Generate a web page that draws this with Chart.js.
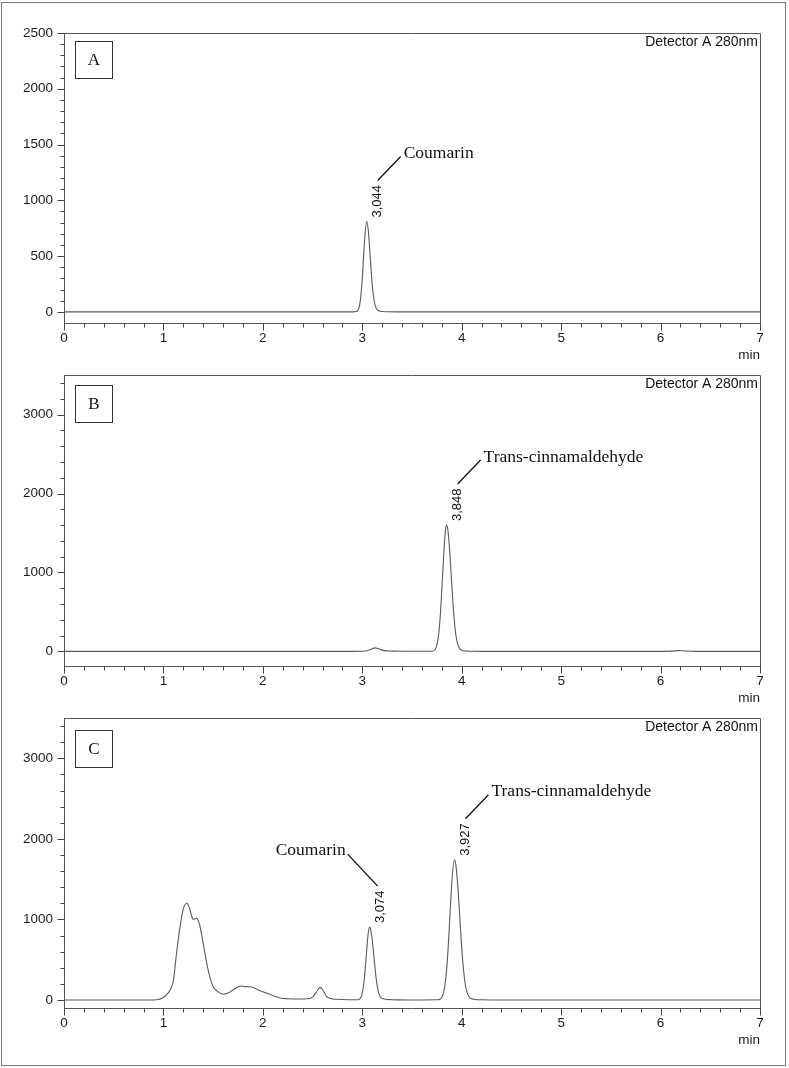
<!DOCTYPE html>
<html><head><meta charset="utf-8">
<script src="https://cdn.jsdelivr.net/npm/chart.js@4.4.1/dist/chart.umd.min.js"></script>
<style>
html,body{margin:0;padding:0;background:#fff;}
#page{position:relative;width:789px;height:1068px;overflow:hidden;background:#fff;}
#frame{position:absolute;left:1px;top:2px;width:783px;height:1062px;border:1px solid #7a7a7a;}
.wrap{position:absolute;left:0;width:789px;}
canvas{display:block;}
</style></head><body>
<div id="page">
<div id="frame"></div>
<div class="wrap" style="top:0px;height:363px"><canvas id="cA" width="789" height="363"></canvas></div>
<div class="wrap" style="top:363px;height:343px"><canvas id="cB" width="789" height="343"></canvas></div>
<div class="wrap" style="top:706px;height:342px"><canvas id="cC" width="789" height="342"></canvas></div>
</div>
<script>
// ---- tick labels ----
const xMajorTicks = [0, 1, 2, 3, 4, 5, 6, 7];
const xMinorStep = 0.2;
const yMajorTicksA = [0, 500, 1000, 1500, 2000, 2500];
const yMinorStepA = 100;
const yMajorTicksBC = [0, 1000, 2000, 3000];
const yMinorStepBC = 200;
const panelLetters = ['A', 'B', 'C'];
const detectorLabel = 'Detector A 280nm';
const xUnit = 'min';

// ---- chromatogram A ----
const timeA = [0, 1.4, 2.9, 2.94, 2.96, 2.98, 3.00, 3.02, 3.044, 3.06, 3.08, 3.10, 3.12, 3.14, 3.16, 3.18, 3.20, 3.25, 3.35, 7];
const signalA = [0, 0, 0, 3, 21, 96, 296, 600, 810, 734, 491, 241, 95, 32, 12, 6, 3, 1, 0, 0];
const peakTimesA = [3.044];
const peakHeightsA = [810];
const peakLabelsA = ['3,044'];
const peakNamesA = ['Coumarin'];
const peakSidesA = ['right'];

// ---- chromatogram B ----
const timeB = [0, 2.9, 3.0, 3.05, 3.09, 3.13, 3.17, 3.22, 3.3, 3.5, 3.70, 3.72, 3.74, 3.76, 3.78, 3.80, 3.82, 3.84, 3.848, 3.86, 3.88, 3.90, 3.92, 3.94, 3.96, 3.98, 4.00, 4.02, 4.05, 4.10, 4.2, 6.0, 6.12, 6.18, 6.24, 6.35, 7];
const signalB = [0, 0, 2, 8, 28, 45, 30, 10, 4, 2, 2, 10, 42, 142, 377, 779, 1253, 1569, 1601, 1547, 1257, 845, 470, 217, 90, 35, 15, 8, 3, 1, 0, 0, 4, 10, 5, 0, 0];
const peakTimesB = [3.848];
const peakHeightsB = [1601];
const peakLabelsB = ['3,848'];
const peakNamesB = ['Trans-cinnamaldehyde'];
const peakSidesB = ['right'];

// ---- chromatogram C ----
const timeC = [0, 0.90, 0.95, 1.00, 1.05, 1.07, 1.10, 1.13, 1.15, 1.17, 1.20, 1.234, 1.26, 1.28, 1.30, 1.335, 1.36, 1.38, 1.40, 1.42, 1.45, 1.48, 1.50, 1.55, 1.60, 1.65, 1.70, 1.75, 1.78, 1.82, 1.87, 1.92, 1.97, 2.02, 2.07, 2.12, 2.17, 2.25, 2.35, 2.45, 2.50, 2.55, 2.575, 2.60, 2.64, 2.68, 2.75, 2.85, 2.96, 2.98, 3.00, 3.02, 3.04, 3.06, 3.074, 3.08, 3.10, 3.12, 3.14, 3.16, 3.18, 3.20, 3.22, 3.25, 3.30, 3.35, 3.50, 3.76, 3.78, 3.80, 3.82, 3.84, 3.86, 3.88, 3.90, 3.927, 3.94, 3.96, 3.98, 4.00, 4.02, 4.04, 4.06, 4.08, 4.10, 4.14, 4.20, 4.30, 7];
const signalC = [0, 0, 5, 30, 90, 130, 240, 560, 760, 930, 1130, 1200, 1150, 1060, 1000, 1015, 950, 840, 700, 560, 370, 230, 164, 100, 70, 85, 123, 160, 173, 165, 164, 145, 115, 92, 70, 45, 25, 15, 12, 15, 35, 120, 156, 130, 45, 18, 8, 3, 3, 20, 85, 257, 549, 832, 905, 896, 748, 497, 263, 111, 45, 20, 12, 6, 3, 1, 0, 2, 8, 33, 103, 269, 575, 1009, 1454, 1741, 1687, 1423, 1036, 650, 351, 164, 75, 30, 14, 5, 2, 0, 0];
const peakTimesC = [3.074, 3.927];
const peakHeightsC = [905, 1741];
const peakLabelsC = ['3,074', '3,927'];
const peakNamesC = ['Coumarin', 'Trans-cinnamaldehyde'];
const peakSidesC = ['left', 'right'];

const SANS = '"Liberation Sans", Arial, sans-serif';
const SERIF = '"Liberation Serif", "Times New Roman", serif';

const chromoPlugin = {
  id: 'chromo',
  afterDraw(chart, args, o) {
    const ctx = chart.ctx, ca = chart.chartArea;
    const xs = chart.scales.x, ys = chart.scales.y;
    ctx.save();
    // frame top & right
    ctx.strokeStyle = '#555'; ctx.lineWidth = 1;
    ctx.beginPath();
    ctx.moveTo(Math.round(ca.left) + 0.5, Math.round(ca.top) + 0.5);
    ctx.lineTo(Math.round(ca.right) + 0.5, Math.round(ca.top) + 0.5);
    ctx.lineTo(Math.round(ca.right) + 0.5, Math.round(ca.bottom) + 0.5);
    ctx.stroke();
    // ticks
    ctx.strokeStyle = '#444';
    ctx.beginPath();
    const yb = Math.round(ca.bottom) + 0.5;
    for (let v = xs.min; v <= xs.max + 1e-9; v += o.xStep) {
      const vv = Math.round(v * 1000) / 1000;
      const major = o.xMajors.some(m => Math.abs(m - vv) < 1e-6);
      const px = Math.round(xs.getPixelForValue(vv)) + 0.5;
      ctx.moveTo(px, yb); ctx.lineTo(px, yb + (major ? 7 : 4));
    }
    const xl = Math.round(ca.left) + 0.5;
    const start = Math.ceil(ys.min / o.yStep) * o.yStep;
    for (let v = start; v <= ys.max + 1e-9; v += o.yStep) {
      if (Math.abs(v - ys.min) < 1e-6) continue;
      const major = o.yMajors.includes(v);
      const py = Math.round(ys.getPixelForValue(v)) + 0.5;
      ctx.moveTo(xl, py); ctx.lineTo(xl - (major ? 7 : 4), py);
    }
    ctx.stroke();
    // detector label
    ctx.fillStyle = '#111';
    ctx.font = '14px ' + SANS;
    ctx.textAlign = 'right'; ctx.textBaseline = 'middle';
    ctx.fillText(detectorLabel, ca.right - 2, ca.top + 9);
    // panel letter box
    ctx.strokeStyle = '#333'; ctx.lineWidth = 1;
    const bx = Math.round(ca.left) + 11.5, by = Math.round(ca.top) + o.boxOff + 0.5;
    ctx.strokeRect(bx, by, 37, 37);
    ctx.font = '17px ' + SERIF;
    ctx.textAlign = 'center'; ctx.textBaseline = 'middle';
    ctx.fillText(o.letter, bx + 18.5, by + 19.5);
    // peak annotations
    for (let i = 0; i < o.times.length; i++) {
      const px = xs.getPixelForValue(o.times[i]);
      const py = ys.getPixelForValue(o.heights[i]);
      ctx.save();
      ctx.translate(px + 11, py - 4);
      ctx.rotate(-Math.PI / 2);
      ctx.font = '13px ' + SANS;
      ctx.textAlign = 'left'; ctx.textBaseline = 'middle';
      ctx.fillStyle = '#111';
      ctx.fillText(o.labels[i], 0, 0);
      ctx.restore();
      ctx.strokeStyle = '#111'; ctx.lineWidth = 1.3;
      ctx.beginPath();
      const sx = px + 11, sy = py - 41;
      ctx.font = '17.5px ' + SERIF;
      ctx.textBaseline = 'middle';
      if (o.sides[i] === 'right') {
        const ex = sx + 23, ey = sy - 24;
        ctx.moveTo(sx, sy); ctx.lineTo(ex, ey); ctx.stroke();
        ctx.textAlign = 'left';
        ctx.fillText(o.names[i], ex + 3, ey - 3);
      } else {
        const ex = sx - 33, ey = sy - 32;
        ctx.moveTo(sx - 3, sy); ctx.lineTo(ex, ey); ctx.stroke();
        ctx.textAlign = 'right';
        ctx.fillText(o.names[i], ex - 2, ey - 4);
      }
    }
    ctx.restore();
  }
};

function makeChart(id, time, signal, p) {
  const pts = time.map((t, i) => ({ x: t, y: signal[i] }));
  return new Chart(document.getElementById(id), {
    type: 'line',
    data: { datasets: [{ data: pts, borderColor: '#5a5a5a', borderWidth: 1.1, pointRadius: 0, cubicInterpolationMode: 'monotone', fill: false }] },
    plugins: [chromoPlugin],
    options: {
      responsive: false, animation: false, devicePixelRatio: 1,
      layout: { padding: { top: p.padTop, right: 29, left: 0, bottom: 0 } },
      plugins: {
        legend: { display: false }, tooltip: { enabled: false },
        chromo: { xStep: xMinorStep, xMajors: xMajorTicks, yStep: p.yStep, yMajors: p.yMajors, letter: p.letter, boxOff: p.boxOff,
          times: p.times, heights: p.heights, labels: p.labels, names: p.names, sides: p.sides }
      },
      scales: {
        x: {
          type: 'linear', min: 0, max: 7,
          afterBuildTicks: s => { s.ticks = xMajorTicks.map(v => ({ value: v })); },
          afterFit: s => { s.height = 40; },
          grid: { display: true, drawOnChartArea: false, drawTicks: true, tickLength: 7, tickColor: 'rgba(0,0,0,0)' },
          border: { display: true, color: '#555', width: 1 },
          ticks: { autoSkip: false, maxRotation: 0, padding: 0, color: '#1a1a1a', font: { family: SANS, size: 13.5 }, callback: v => String(v) },
          title: { display: true, text: xUnit, align: 'end', color: '#1a1a1a', font: { family: SANS, size: 13.5, lineHeight: 1.2 }, padding: { top: 0, bottom: 0 } }
        },
        y: {
          type: 'linear', min: p.yMin, max: p.yMax,
          afterBuildTicks: s => { s.ticks = p.yMajors.map(v => ({ value: v })); },
          afterFit: s => { s.width = 64; },
          grid: { display: true, drawOnChartArea: false, drawTicks: true, tickLength: 7, tickColor: 'rgba(0,0,0,0)' },
          border: { display: true, color: '#555', width: 1 },
          ticks: { autoSkip: false, padding: 4, color: '#1a1a1a', font: { family: SANS, size: 13.5 }, callback: v => String(v) }
        }
      }
    }
  });
}

makeChart('cA', timeA, signalA, { padTop: 33, yMin: -100, yMax: 2500, yStep: yMinorStepA, yMajors: yMajorTicksA, letter: panelLetters[0], boxOff: 8,
  times: peakTimesA, heights: peakHeightsA, labels: peakLabelsA, names: peakNamesA, sides: peakSidesA });
makeChart('cB', timeB, signalB, { padTop: 11, yMin: -185, yMax: 3500, yStep: yMinorStepBC, yMajors: yMajorTicksBC, letter: panelLetters[1], boxOff: 10,
  times: peakTimesB, heights: peakHeightsB, labels: peakLabelsB, names: peakNamesB, sides: peakSidesB });
makeChart('cC', timeC, signalC, { padTop: 10, yMin: -100, yMax: 3500, yStep: yMinorStepBC, yMajors: yMajorTicksBC, letter: panelLetters[2], boxOff: 12,
  times: peakTimesC, heights: peakHeightsC, labels: peakLabelsC, names: peakNamesC, sides: peakSidesC });
</script>
</body></html>
